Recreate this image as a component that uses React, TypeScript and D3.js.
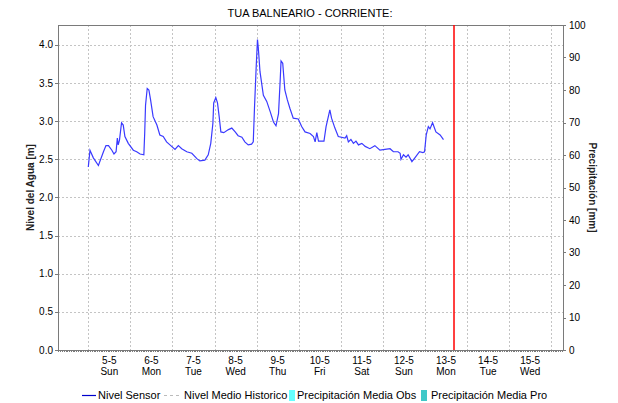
import React from "react";
import * as d3 from "d3";

const TITLE = "TUA BALNEARIO - CORRIENTE:";
// days since 5-5-2024 00:00 (UTC) and water level [m]
const dayOffsets = [
  0.0, 0.04, 0.12, 0.24, 0.36, 0.42, 0.48, 0.56, 0.61, 0.66, 0.69, 0.71, 0.74, 0.79, 0.83, 0.87, 0.95,
  1.07, 1.15, 1.23, 1.32, 1.34, 1.36, 1.4, 1.44, 1.48, 1.54, 1.63, 1.7, 1.78, 1.86, 1.94,
  2.06, 2.14, 2.22, 2.34, 2.46, 2.58, 2.65, 2.77, 2.85, 2.91, 2.96, 2.98,
  3.03, 3.07, 3.11, 3.15, 3.22, 3.33, 3.41, 3.49, 3.56, 3.65, 3.72, 3.8, 3.88, 3.92, 3.95, 3.99,
  4.02, 4.04, 4.08, 4.16, 4.24, 4.32, 4.4, 4.46, 4.52, 4.56, 4.58, 4.62, 4.67, 4.73, 4.79, 4.87, 4.99,
  5.07, 5.15, 5.27, 5.35, 5.39, 5.43, 5.47, 5.6, 5.65, 5.74, 5.78, 5.86, 5.94,
  6.1, 6.14, 6.18, 6.24, 6.3, 6.36, 6.42, 6.5, 6.58, 6.69, 6.81, 6.93,
  7.05, 7.17, 7.25, 7.36, 7.41, 7.43, 7.49, 7.55, 7.6, 7.69, 7.76, 7.87, 7.95, 7.99,
  8.03, 8.08, 8.12, 8.18, 8.26, 8.36, 8.44,
];
const levels = [
  2.4, 2.62, 2.52, 2.42, 2.6, 2.68, 2.68, 2.62, 2.57, 2.6, 2.78, 2.69, 2.75, 2.98, 2.95, 2.8, 2.71,
  2.62, 2.6, 2.57, 2.56, 2.84, 3.21, 3.43, 3.41, 3.28, 3.06, 2.95, 2.82, 2.8, 2.73, 2.69,
  2.63, 2.68, 2.64, 2.6, 2.58, 2.51, 2.48, 2.49, 2.56, 2.71, 2.97, 3.24,
  3.31, 3.24, 3.06, 2.86, 2.85, 2.89, 2.91, 2.86, 2.81, 2.79, 2.73, 2.69, 2.7, 2.73, 3.19, 3.72,
  4.07, 3.96, 3.65, 3.34, 3.26, 3.13, 2.99, 2.94, 3.1, 3.54, 3.79, 3.76, 3.41, 3.28, 3.17, 3.04, 3.03,
  2.93, 2.86, 2.84, 2.8, 2.73, 2.85, 2.74, 2.74, 2.93, 3.15, 3.04, 2.91, 2.8,
  2.78, 2.81, 2.73, 2.76, 2.71, 2.74, 2.69, 2.71, 2.67, 2.64, 2.68, 2.62,
  2.63, 2.64, 2.6, 2.6, 2.58, 2.5, 2.56, 2.53, 2.56, 2.47, 2.52, 2.6, 2.59, 2.6,
  2.82, 2.93, 2.9, 2.98, 2.86, 2.82, 2.76,
];
const nowDayOffset = 8.69;
const leftTicks = [0, 0.5, 1.0, 1.5, 2.0, 2.5, 3.0, 3.5, 4.0];
const rightTicks = [0, 10, 20, 30, 40, 50, 60, 70, 80, 90, 100];
const leftMax = 4.262;
const rightMax = 100;
const legendItems = ["Nivel Sensor", "Nivel Medio Historico", "Precipitación Media Obs", "Precipitación Media Pro"];
const yLabelLeft = "Nivel del Agua [m]";
const yLabelRight = "Precipitación [mm]";

const START = Date.UTC(2024, 4, 5, 0, 0);
const DAY = 86400000;
const toDate = (d: number) => new Date(START + d * DAY);

export default function App() {
  const W = 618, H = 403;
  const L = 58, R = 563, T = 25, B = 350;
  const x = d3.scaleUtc().domain([toDate(-0.72), toDate(11.28)]).range([L, R]);
  const yL = d3.scaleLinear().domain([0, leftMax]).range([B, T]);
  const yR = d3.scaleLinear().domain([0, rightMax]).range([B, T]);
  const font = "'Liberation Sans', Arial, sans-serif";

  const days = d3.utcDay.range(toDate(-0.72), toDate(11.28));
  const hours = d3.utcHour.every(1)!.range(toDate(-0.72), toDate(11.28));
  const pts = dayOffsets.map((d, i) => [toDate(d), levels[i]] as [Date, number]);
  const line = d3.line<[Date, number]>().x((p) => x(p[0])).y((p) => yL(p[1]));
  const fmtD = d3.utcFormat("%-d-%-m");
  const fmtW = d3.utcFormat("%a");
  const grid = "#c4c4c4";
  const axisCol = "#7a7a7a";

  return (
    <svg width={W} height={H} style={{ position: "absolute", left: 0, top: 0, background: "#fff" }}>
      <rect x={0} y={0} width={W} height={H} fill="#fff" />
      <text x={310} y={17} textAnchor="middle" fontFamily={font} fontSize={11} fill="#000">{TITLE}</text>
      {/* grid */}
      {leftTicks.filter((t) => t > 0).map((t) => (
        <line key={"h" + t} x1={L} x2={R} y1={Math.round(yL(t)) + 0.5} y2={Math.round(yL(t)) + 0.5} stroke={grid} strokeDasharray="2,2" />
      ))}
      {days.map((d, i) => (
        <line key={"v" + i} x1={Math.round(x(d)) + 0.5} x2={Math.round(x(d)) + 0.5} y1={T} y2={B} stroke={grid} strokeDasharray="2,2" />
      ))}
      {/* frame */}
      <line x1={L} x2={R} y1={T + 0.5} y2={T + 0.5} stroke={axisCol} />
      <line x1={L + 0.5} x2={L + 0.5} y1={T} y2={B} stroke={axisCol} />
      <line x1={R + 0.5} x2={R + 0.5} y1={T} y2={B} stroke={axisCol} />
      <line x1={L} x2={R} y1={B + 0.5} y2={B + 0.5} stroke={axisCol} />
      {/* x minor ticks */}
      {hours.map((h, i) => (
        <line key={"mh" + i} x1={Math.round(x(h)) + 0.5} x2={Math.round(x(h)) + 0.5} y1={B} y2={B + 2} stroke={axisCol} />
      ))}
      {days.map((d, i) => {
        const mid = new Date(+d + DAY / 2);
        const cx = x(mid);
        if (cx < L + 10 || cx > R) return null;
        return (
          <g key={"xl" + i} fontFamily={font} fontSize={10} fill="#000" textAnchor="middle">
            <text x={cx} y={364}>{fmtD(d)}</text>
            <text x={cx} y={375}>{fmtW(d)}</text>
          </g>
        );
      })}
      {/* left axis */}
      {leftTicks.map((t) => (
        <g key={"lt" + t}>
          <line x1={L - 3} x2={L} y1={Math.round(yL(t)) + 0.5} y2={Math.round(yL(t)) + 0.5} stroke={axisCol} />
          <text x={L - 5} y={yL(t) + 3.5} textAnchor="end" fontFamily={font} fontSize={10} fill="#000">{t.toFixed(1)}</text>
        </g>
      ))}
      {/* right axis */}
      {rightTicks.map((t) => (
        <g key={"rt" + t}>
          <line x1={R} x2={R + 3} y1={Math.round(yR(t)) + 0.5} y2={Math.round(yR(t)) + 0.5} stroke={axisCol} />
          <text x={R + 6} y={yR(t) + 3.5} textAnchor="start" fontFamily={font} fontSize={10} fill="#000">{t}</text>
        </g>
      ))}
      <text transform={`translate(34,${(T + B) / 2}) rotate(-90)`} textAnchor="middle" fontFamily={font} fontSize={10} fontWeight="bold" fill="#222">{yLabelLeft}</text>
      <text transform={`translate(589,${(T + B) / 2}) rotate(90)`} textAnchor="middle" fontFamily={font} fontSize={10} fontWeight="bold" fill="#222">{yLabelRight}</text>
      {/* series */}
      <path d={line(pts) || ""} fill="none" stroke="#3a3aff" strokeWidth={1.2} />
      <line x1={x(toDate(nowDayOffset))} x2={x(toDate(nowDayOffset))} y1={T} y2={B} stroke="#ff0000" strokeWidth={1.5} />
      {/* legend */}
      <g fontFamily={font} fontSize={11} fill="#000">
        <line x1={82} x2={96} y1={395.5} y2={395.5} stroke="#0000cc" strokeWidth={1.2} />
        <text x={98} y={399}>{legendItems[0]}</text>
        <line x1={164} x2={180} y1={395.5} y2={395.5} stroke="#bbbbbb" strokeDasharray="3,3" />
        <text x={184} y={399}>{legendItems[1]}</text>
        <rect x={289} y={390} width={6} height={11} fill="#66ffff" />
        <text x={297} y={399}>{legendItems[2]}</text>
        <rect x={421} y={390} width={6} height={11} fill="#40c8c8" />
        <text x={431} y={399}>{legendItems[3]}</text>
      </g>
    </svg>
  );
}
